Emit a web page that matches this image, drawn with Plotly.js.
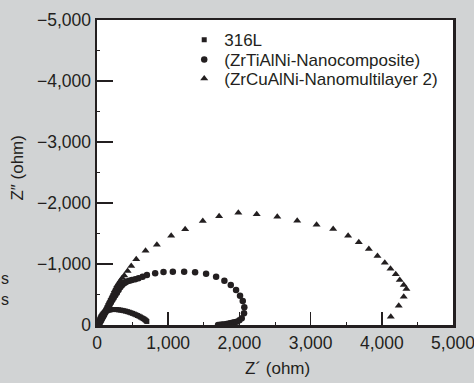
<!DOCTYPE html>
<html>
<head>
<meta charset="utf-8">
<script src="https://cdn.plot.ly/plotly-3.0.1.min.js"></script>
<style>html,body{margin:0;padding:0;background:#d1d3d4;}#chart{width:474px;height:383px;}</style>
</head>
<body>
<div id="chart"></div>
<script>
// Series names
const seriesNames = ["316L", "(ZrTiAlNi-Nanocomposite)", "(ZrCuAlNi-Nanomultilayer 2)"];

// 316L: Z' (ohm) and Z'' (ohm)
const s316Re = [15, 22, 30, 38, 47, 57, 68, 80, 93, 107, 122, 138, 155, 173, 192, 212, 233, 255, 278, 302, 327, 352, 377, 402, 427, 452, 476, 500, 523, 546, 568, 590, 610, 630, 648, 664, 678, 690, 700];
const s316Im = [-20, -45, -70, -95, -118, -140, -160, -178, -195, -210, -222, -232, -240, -246, -250, -253, -254, -254, -252, -249, -245, -240, -234, -227, -219, -210, -200, -190, -179, -168, -156, -144, -131, -118, -106, -94, -82, -70, -58];

// ZrTiAlNi-Nanocomposite
const tiRe = [30, 40, 50, 62, 75, 88, 100, 115, 130, 145, 160, 178, 195, 215, 235, 257, 280, 303, 327, 350, 375, 397, 420, 455, 491, 537, 583, 640, 701, 817, 934, 1065, 1224, 1378, 1532, 1673, 1789, 1879, 1953, 2009, 2047, 2069, 2065, 2033, 2000, 1963, 1930, 1900, 1870, 1845, 1820, 1790, 1765, 1740, 1720, 1700];
const tiIm = [-20, -40, -60, -88, -115, -142, -170, -202, -235, -268, -300, -335, -370, -408, -445, -488, -530, -575, -620, -652, -680, -698, -712, -725, -737, -752, -766, -793, -820, -848, -869, -874, -874, -864, -841, -792, -726, -656, -574, -480, -393, -290, -192, -110, -78, -54, -44, -35, -27, -20, -15, -10, -7, -4, -2, -1];

// ZrCuAlNi-Nanomultilayer 2
const cuRe = [15, 20, 32, 45, 57, 70, 82, 95, 110, 125, 140, 155, 170, 185, 202, 220, 235, 250, 268, 285, 307, 330, 355, 383, 430, 481, 551, 682, 841, 1042, 1238, 1486, 1715, 1985, 2243, 2532, 2812, 3084, 3317, 3527, 3677, 3818, 3939, 4042, 4122, 4196, 4252, 4308, 4346, 4308, 4238, 4126];
const cuIm = [-10, -25, -50, -75, -105, -135, -165, -195, -230, -265, -300, -335, -372, -410, -450, -490, -530, -570, -610, -650, -690, -730, -770, -810, -885, -967, -1077, -1218, -1317, -1464, -1569, -1705, -1782, -1841, -1815, -1775, -1710, -1644, -1574, -1464, -1356, -1246, -1131, -1021, -923, -831, -738, -656, -590, -464, -316, -136];

// Axis tick values
const xTicks = [0, 1000, 2000, 3000, 4000, 5000];
const yTicks = [0, -1000, -2000, -3000, -4000, -5000];

const ink = '#231f20';
const fontFam = 'Liberation Sans, Arial, Helvetica, sans-serif';

const traces = [
  {x: s316Re, y: s316Im, name: seriesNames[0], type: 'scatter', mode: 'markers',
   marker: {symbol: 'square', size: 5, color: ink}, legend: 'legend'},
  {x: tiRe, y: tiIm, name: seriesNames[1], type: 'scatter', mode: 'markers',
   marker: {symbol: 'circle', size: 6.5, color: ink}, legend: 'legend2'},
  {x: cuRe, y: cuIm, name: seriesNames[2], type: 'scatter', mode: 'markers',
   marker: {symbol: 'triangle-up', size: 7, color: ink}, legend: 'legend3'}
];

const axisCommon = {
  showgrid: false, zeroline: false,
  showline: true, linewidth: 2.5, linecolor: ink, mirror: true,
  ticks: 'inside', tickwidth: 1.5, tickcolor: ink,
  tickformat: ',d', ticklabeloverflow: 'allow',
  tickfont: {family: fontFam, size: 17.5, color: ink},
  minor: {ticks: 'inside', dtick: 500, ticklen: 3, tickwidth: 1, tickcolor: ink}
};

function legendAt(y) {
  return {x: 0.245, y: y, xanchor: 'left', yanchor: 'middle', bgcolor: 'rgba(0,0,0,0)',
          borderwidth: 0, font: {family: fontFam, size: 17, color: ink}, itemsizing: 'trace'};
}

const layout = {
  width: 474, height: 383,
  paper_bgcolor: '#d1d3d4', plot_bgcolor: '#ffffff',
  margin: {l: 97, r: 21, t: 20, b: 58},
  showlegend: true,
  xaxis: Object.assign({}, axisCommon, {range: [0, 5000], tickvals: xTicks, ticklen: 13}),
  yaxis: Object.assign({}, axisCommon, {range: [0, -5000], tickvals: yTicks, ticklen: 16}),
  legend: legendAt(0.934),
  legend2: legendAt(0.869),
  legend3: legendAt(0.8066),
  annotations: [
    {text: 'Z´ (ohm)', xref: 'paper', yref: 'paper', x: 0.508, y: -0.141, xanchor: 'center', yanchor: 'middle',
     showarrow: false, font: {family: fontFam, size: 17, color: ink}},
    {text: 'Z″ (ohm)', xref: 'paper', yref: 'paper', x: -0.222, y: 0.516, xanchor: 'center', yanchor: 'middle',
     textangle: -90, showarrow: false, font: {family: fontFam, size: 17, color: ink}},
    {text: 's', xref: 'paper', yref: 'paper', x: -0.2585, y: 0.154, xanchor: 'center', yanchor: 'middle',
     showarrow: false, font: {family: fontFam, size: 16, color: ink}},
    {text: 's', xref: 'paper', yref: 'paper', x: -0.2585, y: 0.082, xanchor: 'center', yanchor: 'middle',
     showarrow: false, font: {family: fontFam, size: 16, color: ink}}
  ]
};

Plotly.newPlot('chart', traces, layout, {displayModeBar: false, staticPlot: true});
</script>
</body>
</html>
